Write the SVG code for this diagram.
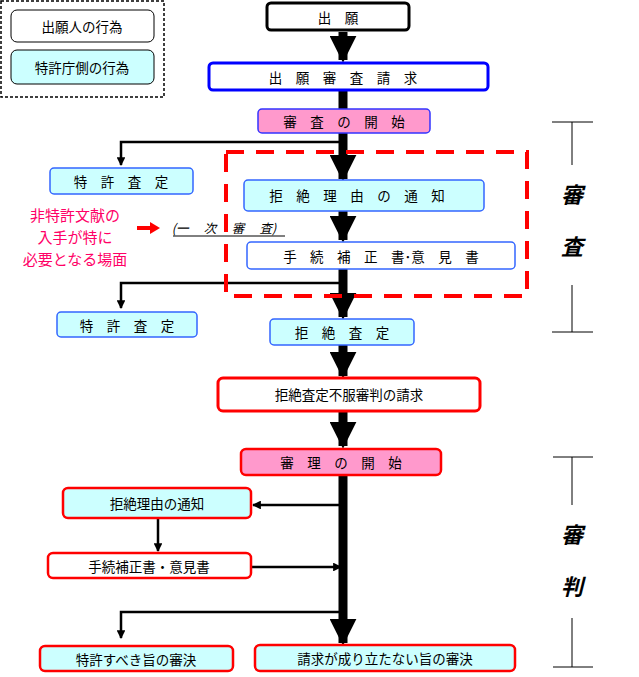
<svg xmlns="http://www.w3.org/2000/svg" width="639" height="677" viewBox="0 0 639 677">
<style>
text{font-family:"Noto Sans CJK JP","Noto Sans CJK SC",sans-serif;font-size:13.5px;text-anchor:middle;dominant-baseline:central;fill:#000}
.cy{fill:#ccffff;stroke:#3366ff;stroke-width:1.5}
.cr{fill:#ccffff;stroke:#ff0000;stroke-width:2.5}
.wr{fill:#fff;stroke:#ff0000;stroke-width:3}
.pk{fill:#ff99cc}
.thick{stroke:#000;stroke-width:9;fill:none}
.thin{stroke:#000;stroke-width:2.5;fill:none}
.br{stroke:#000;stroke-width:1;fill:none}
.big{font-size:22px;font-style:italic;font-weight:bold}
.red{fill:#ff0066;font-size:15px}
</style>
<defs>
<marker id="ah" viewBox="0 0 10 10" refX="9" refY="5" markerWidth="3" markerHeight="3" orient="auto" markerUnits="strokeWidth"><path d="M0,0L10,5L0,10z" fill="#000"/></marker>
<marker id="as" viewBox="0 0 10 10" refX="9" refY="5" markerWidth="3.5" markerHeight="3.5" orient="auto" markerUnits="strokeWidth"><path d="M0,0L10,5L0,10z" fill="#000"/></marker>
</defs>
<g id="legend">
<rect x="1" y="1" width="163" height="96" fill="none" stroke="#000" stroke-width="1.5" stroke-dasharray="3,2"/>
<rect x="11" y="10" width="143" height="32" rx="6" fill="#fff" stroke="#000"/>
<text x="82" y="26">出願人の行為</text>
<rect x="11" y="50" width="143" height="34" rx="6" fill="#ccffff" stroke="#000"/>
<text x="82" y="67">特許庁側の行為</text>
</g>
<g id="connectors">
<line class="thick" x1="343" y1="32" x2="343" y2="60" marker-end="url(#ah)"/>
<line class="thick" x1="343" y1="90" x2="343" y2="109"/>
<line class="thick" x1="343" y1="133" x2="343" y2="179" marker-end="url(#ah)"/>
<polyline class="thin" points="343,142 121,142 121,165" marker-end="url(#as)"/>
<line class="thick" x1="343" y1="211" x2="343" y2="240" marker-end="url(#ah)"/>
<line class="thick" x1="343" y1="269" x2="343" y2="317" marker-end="url(#ah)"/>
<polyline class="thin" points="343,283 121,283 121,308" marker-end="url(#as)"/>
<line class="thick" x1="343" y1="345" x2="343" y2="376" marker-end="url(#ah)"/>
<line class="thick" x1="343" y1="411" x2="343" y2="446" marker-end="url(#ah)"/>
<line class="thick" x1="343" y1="475" x2="343" y2="643" marker-end="url(#ah)"/>
<line class="thin" x1="343" y1="505" x2="253" y2="505" marker-end="url(#as)"/>
<line class="thin" x1="158" y1="518" x2="158" y2="551" marker-end="url(#as)"/>
<line class="thin" x1="251" y1="567" x2="341" y2="567" marker-end="url(#as)"/>
<polyline class="thin" points="343,612 121,612 121,638" marker-end="url(#as)"/>
<line x1="137" y1="228" x2="152" y2="228" stroke="#ff0000" stroke-width="4"/>
<path d="M150,222L160,228L150,234z" fill="#ff0000"/>
</g>
<rect x="226" y="152" width="301" height="144" fill="none" stroke="#ff0000" stroke-width="4" stroke-dasharray="18,12"/>
<g id="n1"><rect x="267" y="3" width="142" height="27" rx="4" fill="#fff" stroke="#000" stroke-width="3"/><text x="338" y="17">出　願</text></g>
<g id="n2"><rect x="209" y="63" width="279" height="27" rx="4" fill="#fff" stroke="#0000ff" stroke-width="3"/><text x="343" y="77">出　願　審　査　請　求</text></g>
<g id="n3"><rect x="258" y="109" width="172" height="24" rx="4" class="pk" stroke="#3333ff" stroke-width="1.5"/><text x="344" y="121">審　査　の　開　始</text></g>
<g id="n4"><rect x="50" y="168" width="143" height="26" rx="4" class="cy"/><text x="121" y="181">特　許　査　定</text></g>
<g id="n5"><rect x="244" y="180" width="240" height="31" rx="4" class="cy"/><text x="357" y="195">拒　絶　理　由　の　通　知</text></g>
<g id="n6"><rect x="247" y="242" width="268" height="27" rx="4" fill="#fff" stroke="#3366ff" stroke-width="1.5"/><text x="381" y="256">手　続　補　正　書･意　見　書</text></g>
<g id="n7"><rect x="57" y="312" width="140" height="25" rx="4" class="cy"/><text x="127" y="325">特　許　査　定</text></g>
<g id="n8"><rect x="270" y="319" width="144" height="26" rx="4" class="cy"/><text x="342" y="332">拒　絶　査　定</text></g>
<g id="n9"><rect x="218" y="378" width="262" height="33" rx="5" class="wr"/><text x="349" y="394">拒絶査定不服審判の請求</text></g>
<g id="n10"><rect x="241" y="449" width="200" height="26" rx="5" class="pk" stroke="#ff0000" stroke-width="2.5"/><text x="341" y="462">審　理　の　開　始</text></g>
<g id="n11"><rect x="63" y="488" width="188" height="30" rx="5" class="cr"/><text x="157" y="503">拒絶理由の通知</text></g>
<g id="n12"><rect x="48" y="553" width="203" height="25" rx="5" fill="#fff" stroke="#ff0000" stroke-width="2.5"/><text x="149" y="566">手続補正書・意見書</text></g>
<g id="n13"><rect x="40" y="646" width="193" height="25" rx="5" class="cr"/><text x="136" y="659">特許すべき旨の審決</text></g>
<g id="n14"><rect x="255" y="645" width="260" height="26" rx="5" class="cr"/><text x="385" y="658">請求が成り立たない旨の審決</text></g>
<g id="note">
<text class="red" x="75" y="214">非特許文献の</text>
<text class="red" x="75" y="236">入手が特に</text>
<text class="red" x="75" y="258">必要となる場面</text>
<text x="224" y="227" style="font-size:12.5px;font-style:italic">(一　 次　 審　 査)</text>
<line x1="173" y1="236" x2="285" y2="236" stroke="#000" stroke-width="1"/>
</g>
<g id="bracket1">
<line class="br" x1="552" y1="122" x2="593" y2="122"/><line class="br" x1="552" y1="332" x2="593" y2="332"/>
<line class="br" x1="572" y1="122" x2="572" y2="165"/><line class="br" x1="572" y1="285" x2="572" y2="332"/>
<text class="big" x="572" y="193">審</text><text class="big" x="572" y="245">査</text>
</g>
<g id="bracket2">
<line class="br" x1="553" y1="457" x2="593" y2="457"/><line class="br" x1="553" y1="667" x2="593" y2="667"/>
<line class="br" x1="572" y1="457" x2="572" y2="505"/><line class="br" x1="572" y1="618" x2="572" y2="667"/>
<text class="big" x="572" y="533">審</text><text class="big" x="572" y="585">判</text>
</g>
</svg>
